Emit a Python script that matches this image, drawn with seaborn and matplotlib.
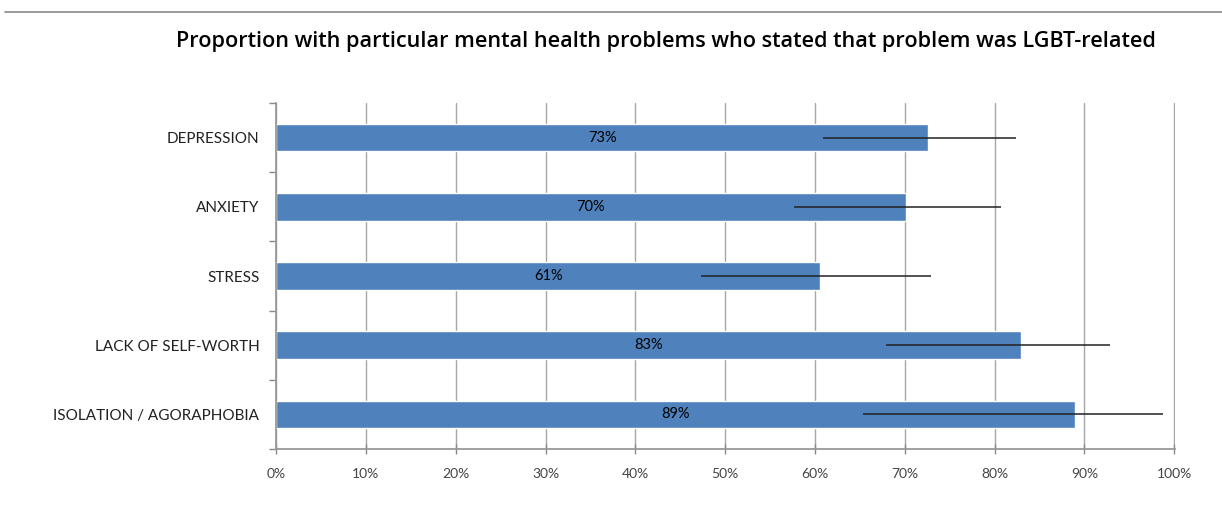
"""Horizontal bar chart: proportion of mental health problems stated as LGBT-related"""
import matplotlib
matplotlib.use('Agg')
import matplotlib.pyplot as plt
from matplotlib.lines import Line2D
from matplotlib.ticker import FixedLocator, MultipleLocator, PercentFormatter
import seaborn as sns
import pandas as pd

problems = ["DEPRESSION", "ANXIETY", "STRESS", "LACK OF SELF-WORTH", "ISOLATION / AGORAPHOBIA"]
pct_related = [72.6, 70.1, 60.6, 82.9, 88.9]
ci_low = [60.9, 57.7, 47.3, 67.9, 65.3]
ci_high = [82.4, 80.7, 72.9, 92.9, 98.7]
bar_labels = ["73%", "70%", "61%", "83%", "89%"]
title = "Proportion with particular mental health problems who stated that problem was LGBT-related"

df = pd.DataFrame({"problem": problems, "pct": pct_related, "lo": ci_low, "hi": ci_high})

sns.set_theme(style="white")
plt.rcParams['font.family'] = ['Lato', 'DejaVu Sans']

fig = plt.figure(figsize=(12.22, 5.11), dpi=100)
ax = fig.add_axes([0.2259, 0.1213, 0.7356, 0.6771])

sns.barplot(data=df, y="problem", x="pct", orient="h", color="#4F81BD",
            saturation=1, width=0.4, errorbar=None, ax=ax, zorder=2)

# asymmetric error lines, no caps
ypos = range(len(df))
ax.errorbar(df["pct"], ypos,
            xerr=[df["pct"] - df["lo"], df["hi"] - df["pct"]],
            fmt="none", ecolor="#222222", elinewidth=1.1, capsize=0, zorder=3)

for i, lab in enumerate(bar_labels):
    ax.text(df["pct"][i] / 2, i, lab, ha="center", va="center", fontsize=10.5, color="black", zorder=4)

ax.set_xlim(0, 100.08)
ax.set_ylim(len(df) - 0.5, -0.5)
ax.xaxis.set_major_locator(MultipleLocator(10))
ax.xaxis.set_major_formatter(PercentFormatter(decimals=0))
ax.grid(axis="x", color="#A6A6A6", linewidth=1, zorder=0)
ax.set_axisbelow(True)
ax.set_xlabel("")
ax.set_ylabel("")

# category ticks sit between the bars, labels at the centres
ax.yaxis.set_minor_locator(FixedLocator([i - 0.5 for i in range(len(df) + 1)]))
ax.tick_params(axis="y", which="major", length=0, pad=12, labelsize=11, labelcolor="#222222")
ax.tick_params(axis="y", which="minor", left=True, length=5, width=1, color="#888888")
ax.tick_params(axis="x", which="major", bottom=True, direction="inout", length=7, width=1,
               color="#888888", pad=10, labelsize=10, labelcolor="#444444")

for s in ["top", "right"]:
    ax.spines[s].set_visible(False)
for s in ["left", "bottom"]:
    ax.spines[s].set_color("#999999")
    ax.spines[s].set_linewidth(1.3)

fig.text(0.5446, 0.918, title, ha="center", va="center", fontsize=15.6,
         fontweight="semibold", color="black", family=["Open Sans", "DejaVu Sans"])

# rule under the (cut off) page heading
fig.add_artist(Line2D([0.004, 1.0], [0.977, 0.977], color="#888888", linewidth=1.2, transform=fig.transFigure))

fig.savefig("out.png", dpi=100)
